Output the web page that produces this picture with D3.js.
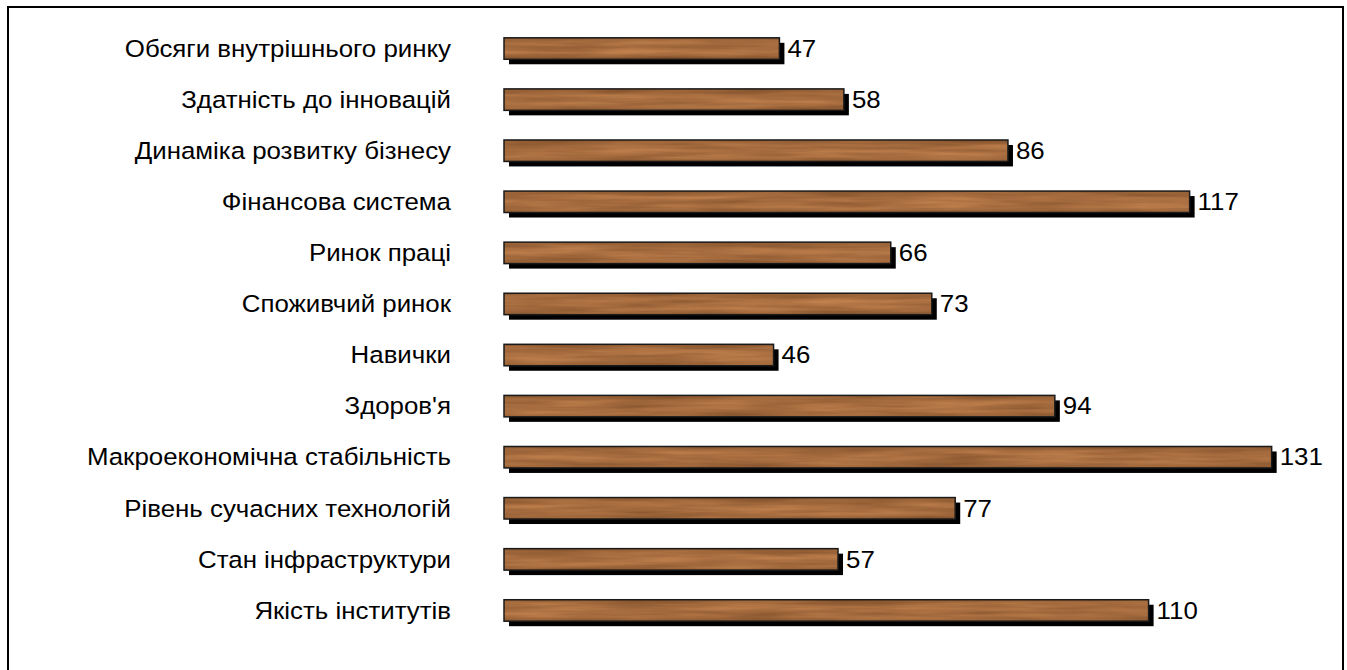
<!DOCTYPE html>
<html>
<head>
<meta charset="utf-8">
<script src="https://cdn.jsdelivr.net/npm/d3@7"></script>
<style>
  body { margin: 0; background: #fff; }
  svg { display: block; }
</style>
</head>
<body>
<svg id="chart" width="1347" height="670"></svg>
<script>
// categories, top to bottom
const categories = [
    "Обсяги внутрішнього ринку",
    "Здатність до інновацій",
    "Динаміка розвитку бізнесу",
    "Фінансова система",
    "Ринок праці",
    "Споживчий ринок",
    "Навички",
    "Здоров'я",
    "Макроекономічна стабільність",
    "Рівень сучасних технологій",
    "Стан інфраструктури",
    "Якість інститутів"
];
const values = [47, 58, 86, 117, 66, 73, 46, 94, 131, 77, 57, 110];

const svg = d3.select("#chart");

// frame around the chart (bottom edge runs off the picture)
svg.append("rect")
    .attr("x", 8).attr("y", 7)
    .attr("width", 1335).attr("height", 700)
    .attr("fill", "none")
    .attr("stroke", "#000")
    .attr("stroke-width", 2);

// wood texture: horizontal grain from stretched noise
const defs = svg.append("defs");
const f = defs.append("filter")
    .attr("id", "wood")
    .attr("x", 0).attr("y", 0).attr("width", 1).attr("height", 1)
    .attr("color-interpolation-filters", "sRGB");
f.append("feTurbulence")
    .attr("type", "fractalNoise")
    .attr("baseFrequency", "0.01 0.18")
    .attr("numOctaves", 3)
    .attr("seed", 7)
    .attr("result", "noise");
f.append("feColorMatrix")
    .attr("in", "noise")
    .attr("type", "matrix")
    .attr("values",
        "0 0 0 0.26 0.53 " +
        "0 0 0 0.20 0.33 " +
        "0 0 0 0.14 0.18 " +
        "0 0 0 0 1")
    .attr("result", "grain");
f.append("feComposite")
    .attr("in", "grain")
    .attr("in2", "SourceGraphic")
    .attr("operator", "in");

// darker top/bottom edge on each bar
const shade = defs.append("linearGradient")
    .attr("id", "shade")
    .attr("x1", 0).attr("y1", 0).attr("x2", 0).attr("y2", 1);
shade.append("stop").attr("offset", 0).attr("stop-color", "#5a3415").attr("stop-opacity", 0.3);
shade.append("stop").attr("offset", 0.3).attr("stop-color", "#5a3415").attr("stop-opacity", 0);
shade.append("stop").attr("offset", 0.75).attr("stop-color", "#5a3415").attr("stop-opacity", 0);
shade.append("stop").attr("offset", 1).attr("stop-color", "#5a3415").attr("stop-opacity", 0.25);

const x0 = 504;
const x = d3.scaleLinear()
    .domain([0, 131])
    .range([x0, x0 + 131 * 5.86]);

const y = d3.scaleBand()
    .domain(categories)
    .range([23, 636])
    .paddingInner(0.58)
    .paddingOuter(0.29);

const data = categories.map((c, i) => ({ cat: c, val: values[i] }));

// shadows
svg.append("g").selectAll("rect")
    .data(data)
    .enter().append("rect")
    .attr("x", x(0) + 5)
    .attr("y", d => y(d.cat) + 5)
    .attr("width", d => x(d.val) - x(0))
    .attr("height", y.bandwidth())
    .attr("fill", "#000");

// bars
const bars = svg.append("g");
bars.selectAll("rect.wood")
    .data(data)
    .enter().append("rect")
    .attr("class", "wood")
    .attr("x", x(0))
    .attr("y", d => y(d.cat))
    .attr("width", d => x(d.val) - x(0))
    .attr("height", y.bandwidth())
    .attr("fill", "#a8703f")
    .attr("filter", "url(#wood)");
bars.selectAll("rect.edge")
    .data(data)
    .enter().append("rect")
    .attr("class", "edge")
    .attr("x", x(0))
    .attr("y", d => y(d.cat))
    .attr("width", d => x(d.val) - x(0))
    .attr("height", y.bandwidth())
    .attr("fill", "url(#shade)")
    .attr("stroke", "#1a1a1a")
    .attr("stroke-width", 1.5);

// text in the reference is a little wider than plain Arial
const stretch = 1.1;

// category labels
svg.append("g")
    .attr("font-family", "Liberation Sans, Arial, sans-serif")
    .attr("font-size", 23.5)
    .attr("text-anchor", "end")
    .selectAll("text")
    .data(data)
    .enter().append("text")
    .attr("transform", d => `translate(451,${y(d.cat) + y.bandwidth() / 2}) scale(${stretch},1)`)
    .attr("dy", "0.35em")
    .attr("fill", "#000")
    .text(d => d.cat);

// value labels
svg.append("g")
    .attr("font-family", "Liberation Sans, Arial, sans-serif")
    .attr("font-size", 23.5)
    .selectAll("text")
    .data(data)
    .enter().append("text")
    .attr("transform", d => `translate(${x(d.val) + 8},${y(d.cat) + y.bandwidth() / 2}) scale(${stretch},1)`)
    .attr("dy", "0.35em")
    .attr("fill", "#000")
    .text(d => d.val);
</script>
</body>
</html>
